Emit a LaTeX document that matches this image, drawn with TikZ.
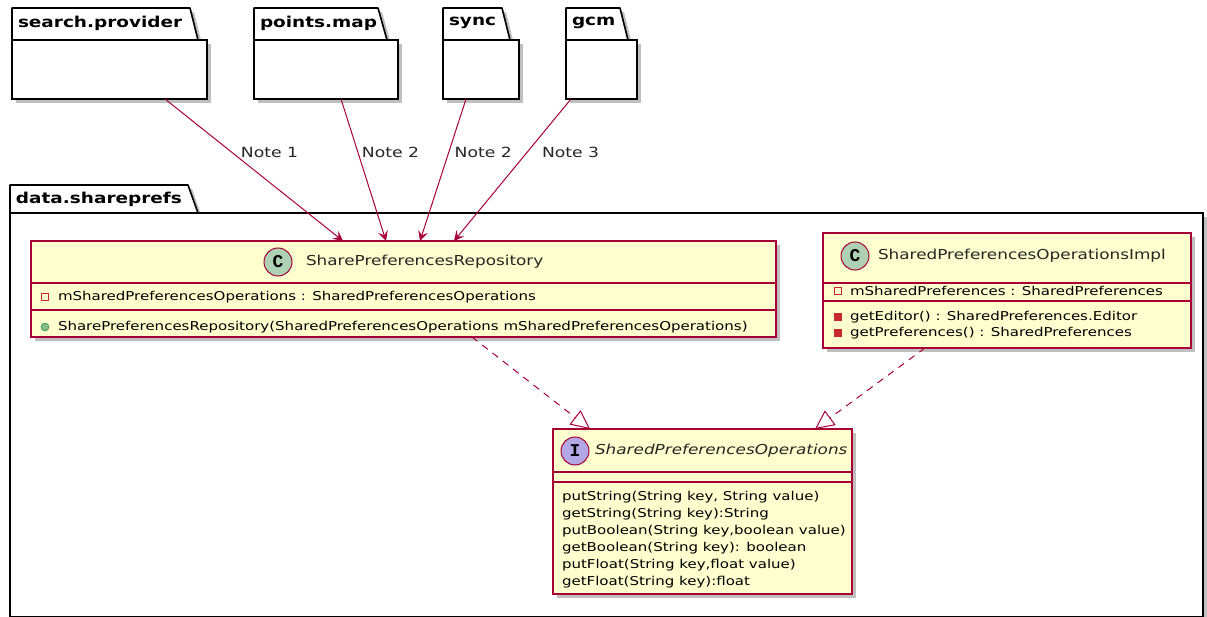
\documentclass[tikz,border=0pt]{standalone}
\usepackage{fontspec}
\setmainfont{DejaVu Sans}[FakeStretch=1.23]
\newfontfamily\stereofont{Liberation Mono}
\usepackage{tikz}
\usetikzlibrary{positioning,arrows.meta,shadows}
\definecolor{umlRed}{HTML}{A80036}
\definecolor{umlFill}{HTML}{FEFECE}
\definecolor{classGreen}{HTML}{ADD1B2}
\definecolor{ifacePurple}{HTML}{B4A7E5}
\definecolor{privRed}{HTML}{C82930}
\definecolor{pubGreen}{HTML}{84BE84}
\definecolor{pubEdge}{HTML}{038048}

\begin{document}
\begin{tikzpicture}[x=1pt, y=-1pt,
    every node/.style={inner sep=0pt, outer sep=0pt},
    dropshade/.style={drop shadow={shadow xshift=4pt, shadow yshift=-4pt,
                      fill=black, opacity=0.25}},
    pkgbody/.style={draw=black, fill=white, line width=1.6pt, dropshade},
    pkgtab/.style={draw=black, fill=white, line width=1.6pt, line join=round, dropshade},
    pkgname/.style={anchor=west, font=\fontsize{15}{18}\selectfont\bfseries},
    classbox/.style={draw=umlRed, fill=umlFill, line width=1.3pt, dropshade},
    divider/.style={draw=umlRed, line width=1.1pt},
    stereo/.style={circle, draw=umlRed, line width=1pt, minimum size=28pt,
                   font=\stereofont\bfseries\fontsize{18}{18}\selectfont},
    cname/.style={anchor=west, font=\fontsize{13.7}{16}\selectfont, text=black!85},
    member/.style={anchor=west, font=\fontsize{12.2}{17}\selectfont},
    privfield/.style={draw=privRed, line width=0.8pt, minimum size=7pt},
    privmeth/.style={draw=privRed, fill=privRed, minimum size=7pt},
    pubmeth/.style={circle, draw=pubEdge, fill=pubGreen, minimum size=8pt},
    notelabel/.style={anchor=west, font=\fontsize{14}{16}\selectfont, text=black!85},
    dep/.style={draw=umlRed, line width=1pt,
                -{Stealth[length=10pt, width=10pt, inset=4pt]}},
    realize/.style={draw=umlRed, line width=1pt, dash pattern=on 7pt off 6pt,
                    -{Triangle[open, length=19pt, width=18pt]}}]
  \useasboundingbox (0,0) rectangle (1207,617);

  % packages along the top
  \filldraw[pkgtab] (12,40) -- (12,8) -- (190,8) -- (198,40) -- cycle;
  \node[pkgbody, minimum width=195pt, minimum height=59pt] (search) at (109.5,69.5) {};
  \node[pkgname] (searchname) at (18,23) {search.provider};

  \filldraw[pkgtab] (254,40) -- (254,8) -- (378,8) -- (387,40) -- cycle;
  \node[pkgbody, minimum width=144pt, minimum height=59pt] (points) at (326,69.5) {};
  \node[pkgname] (pointsname) at (260,23) {points.map};

  \filldraw[pkgtab] (443,40) -- (443,8) -- (502,8) -- (510,40) -- cycle;
  \node[pkgbody, minimum width=76pt, minimum height=59pt] (sync) at (481,69.5) {};
  \node[pkgname] (syncname) at (449,23) {sync};

  \filldraw[pkgtab] (566,40) -- (566,8) -- (620,8) -- (628,40) -- cycle;
  \node[pkgbody, minimum width=71pt, minimum height=59pt] (gcm) at (601.5,69.5) {};
  \node[pkgname] (gcmname) at (572,23) {gcm};

  % data.shareprefs
  \filldraw[pkgtab] (10,213) -- (10,185) -- (188,185) -- (198,213) -- cycle;
  \node[pkgbody, minimum width=1193pt, minimum height=404pt] (shareprefs) at (606.5,415) {};
  \node[pkgname] (sharename) at (16,199) {data.shareprefs};

  % SharePreferencesRepository
  \node[classbox, minimum width=745pt, minimum height=96pt] (repo) at (403.5,289) {};
  \draw[divider] (31,283) -- (776,283);
  \draw[divider] (31,310) -- (776,310);
  \node[stereo, fill=classGreen] (repoC) at (278,262) {C};
  \node[cname] (reponame) at (306,262) {SharePreferencesRepository};
  \node[privfield] (repoF) at (45,297) {};
  \node[member] (repofield) at (58,297) {mSharedPreferencesOperations : SharedPreferencesOperations};
  \node[pubmeth] (repoM) at (45,327) {};
  \node[member] (repoctor) at (58,327) {SharePreferencesRepository(SharedPreferencesOperations mSharedPreferencesOperations)};

  % SharedPreferencesOperationsImpl
  \node[classbox, minimum width=368pt, minimum height=115pt] (impl) at (1007,290.5) {};
  \draw[divider] (823,283) -- (1191,283);
  \draw[divider] (823,301) -- (1191,301);
  \node[stereo, fill=classGreen] (implC) at (855,256) {C};
  \node[cname] (implname) at (878,256) {SharedPreferencesOperationsImpl};
  \node[privfield] (implF) at (838,291) {};
  \node[member] (implfield) at (850,291) {mSharedPreferences : SharedPreferences};
  \node[privmeth] (implM1) at (838,317) {};
  \node[privmeth] (implM2) at (838,333) {};
  \node[member, anchor=north west, align=left, font=\fontsize{12.2}{16}\selectfont]
    (implmethods) at (850,311) {getEditor() : SharedPreferences.Editor\\getPreferences() : SharedPreferences};

  % SharedPreferencesOperations
  \node[classbox, minimum width=299pt, minimum height=165pt] (iface) at (702.5,511.5) {};
  \draw[divider] (553,472) -- (852,472);
  \draw[divider] (553,482) -- (852,482);
  \node[stereo, fill=ifacePurple] (ifaceI) at (575,451) {I};
  \node[cname] (ifacename) at (595,451) {\itshape SharedPreferencesOperations};
  \node[member, anchor=north west, align=left] (ifacemethods) at (562,491)
    {putString(String key, String value)\\getString(String key):String\\putBoolean(String key,boolean value)\\getBoolean(String key): boolean\\putFloat(String key,float value)\\getFloat(String key):float};

  % dependencies into the repository
  \draw[dep] ([xshift=55.5pt]search.south) -- node[notelabel, pos=0.376, xshift=9pt] {Note 1} ([xshift=-60.5pt]repo.north);
  \draw[dep] ([xshift=15pt]points.south) -- node[notelabel, pos=0.376, xshift=4pt] {Note 2} ([xshift=-17.5pt]repo.north);
  \draw[dep] ([xshift=-15pt]sync.south) -- node[notelabel, pos=0.376, xshift=6pt] {Note 2} ([xshift=16.5pt]repo.north);
  \draw[dep] ([xshift=-30.5pt]gcm.south) -- node[notelabel, pos=0.376, xshift=15pt] {Note 3} ([xshift=50.5pt]repo.north);

  % realizations of the interface
  \draw[realize] ([xshift=68.5pt]repo.south) -- ([xshift=-112.5pt]iface.north);
  \draw[realize] ([xshift=-82pt]impl.south) -- ([xshift=112.5pt]iface.north);
\end{tikzpicture}
\end{document}
